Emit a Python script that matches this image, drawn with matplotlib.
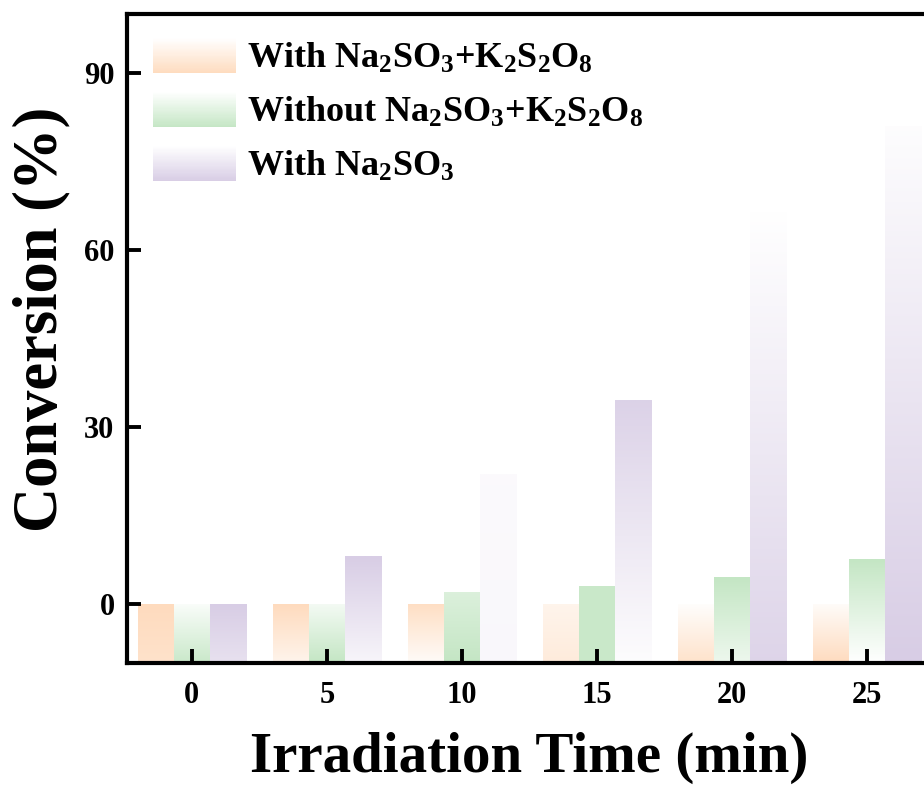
import numpy as np
import matplotlib
matplotlib.use("Agg")
import matplotlib.pyplot as plt
from matplotlib.patches import Rectangle
from matplotlib.legend_handler import HandlerBase
from matplotlib.colors import to_rgb

plt.rcParams['font.family'] = ['Liberation Serif', 'DejaVu Serif']
plt.rcParams['font.weight'] = 'bold'
plt.rcParams['axes.labelweight'] = 'bold'
plt.rcParams['mathtext.fontset'] = 'custom'
plt.rcParams['mathtext.rm'] = 'Liberation Serif:bold'
plt.rcParams['mathtext.it'] = 'Liberation Serif:bold'
plt.rcParams['mathtext.bf'] = 'Liberation Serif:bold'
plt.rcParams['mathtext.default'] = 'rm'

# ---- data ----
times = [0, 5, 10, 15, 20, 25]
series_names = ["With Na$_2$SO$_3$+K$_2$S$_2$O$_8$",
                "Without Na$_2$SO$_3$+K$_2$S$_2$O$_8$",
                "With Na$_2$SO$_3$"]
with_both = [0, 0, 0, 0, 0, 0]
without_both = [0, 0, 2, 3, 4.5, 7.5]
with_na2so3 = [0, 8, 22, 34.5, 67, 81]
yticks = [0, 30, 60, 90]

# ---- styles ----
colors = ["#FEDBBE", "#C4E6C4", "#D8CDE5"]
# gradient strength (top, bottom) per bar, 0 = white, 1 = full colour
grad = [
    [(1.0, 0.8), (1.0, 0.3), (0.9, 0.1), (0.3, 0.55), (0.05, 0.8), (0.1, 1.0)],
    [(0.1, 0.9), (0.2, 1.0), (0.6, 1.0), (0.9, 0.9), (1.0, 0.3), (1.0, 0.0)],
    [(1.0, 0.6), (1.0, 0.2), (0.1, 0.15), (0.9, 0.05), (0.0, 0.85), (0.05, 1.0)],
]
ymin, ymax = -10, 100
xmin, xmax = -2.4, 27.4
width = 4 / 3

fig = plt.figure(figsize=(9.24, 7.96), dpi=100)
ax = fig.add_axes([127 / 924, 133 / 796, (932 - 127) / 924, (663 - 14) / 796])
ax.set_xlim(xmin, xmax)
ax.set_ylim(ymin, ymax)


def grad_img(color, top, bottom, n=64):
    c = np.array(to_rgb(color))
    t = np.linspace(top, bottom, n)[:, None]
    rgb = 1 - t[:, :, None] * (1 - c[None, None, :])
    return rgb


series = [with_both, without_both, with_na2so3]
for i, vals in enumerate(series):
    xs = np.array(times) + (i - 1) * width
    heights = np.array(vals) - ymin
    bars = ax.bar(xs, heights, width=width, bottom=ymin, color='none',
                  edgecolor='none', zorder=2)
    for j, b in enumerate(bars):
        x0, y0 = b.get_x(), b.get_y()
        w, h = b.get_width(), b.get_height()
        top, bot = grad[i][j]
        img = grad_img(colors[i], top, bot)
        ax.imshow(img, extent=(x0, x0 + w, y0, y0 + h), aspect='auto',
                  origin='upper', zorder=1, interpolation='bilinear')

ax.set_xlim(xmin, xmax)
ax.set_ylim(ymin, ymax)
ax.set_xticks(times)
ax.set_xticklabels([str(t) for t in times])
ax.set_yticks(yticks)
ax.tick_params(direction='in', length=10, width=2.8, labelsize=22, pad=9)
ax.tick_params(axis='x', pad=13)
for s in ax.spines.values():
    s.set_linewidth(3)

ax.set_xlabel("Irradiation Time (min)", fontsize=41, fontweight='bold',
              labelpad=16)
ax.set_ylabel("Conversion (%)", fontsize=45, fontweight='bold')
ax.yaxis.set_label_coords(-0.070, 0.530)


class GradHandler(HandlerBase):
    def __init__(self, color):
        super().__init__()
        self.color = color

    def create_artists(self, legend, orig_handle, xdescent, ydescent, width,
                       height, fontsize, trans):
        arts = []
        n = 30
        c = np.array(to_rgb(self.color))
        for k in range(n):
            f = (k + 0.5) / n  # 0 bottom -> 1 top
            s = 1 - f
            col = 1 - s * (1 - c)
            r = Rectangle((-xdescent, -ydescent + k * height / n), width,
                          height / n * 1.05, facecolor=col, edgecolor='none',
                          transform=trans)
            arts.append(r)
        return arts


handles = [Rectangle((0, 0), 1, 1, facecolor=c) for c in colors]
hmap = {h: GradHandler(c) for h, c in zip(handles, colors)}
leg = ax.legend(handles, series_names, handler_map=hmap, loc='upper left',
                bbox_to_anchor=(0.005, 0.996), frameon=False, fontsize=26,
                handlelength=2.3, handleheight=1.12, handletextpad=0.3,
                labelspacing=0.44, borderaxespad=0.2)

fig.savefig("out.png", dpi=100)
